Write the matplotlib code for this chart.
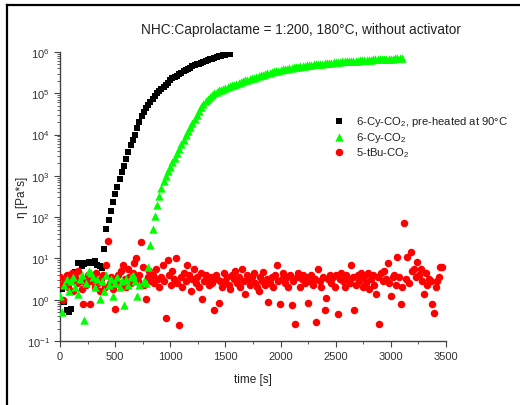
import numpy as np
import matplotlib
matplotlib.use("Agg")
import matplotlib.pyplot as plt
from matplotlib.lines import Line2D
from matplotlib.ticker import LogLocator, MultipleLocator, NullFormatter

# ---------------- data (log10 of eta) ----------------
black_dt = 20  # s between samples
black_log = [
    0.0, 0.26, -0.05, -0.26, -0.3, -0.22, 0.6, 0.66, 0.88, 0.9,
    0.81, 0.86, 0.9, 0.92, 0.88, 0.9, 0.93, 0.85, 0.81, 0.78,
    1.23, 1.71, 1.92, 2.14, 2.36, 2.56, 2.74, 2.92, 3.09, 3.25,
    3.42, 3.58, 3.74, 3.88, 4.00, 4.15, 4.30, 4.45, 4.55, 4.64,
    4.72, 4.80, 4.87, 4.94, 5.00, 5.05, 5.10, 5.15, 5.20, 5.25,
    5.32, 5.36, 5.39, 5.43, 5.46, 5.49, 5.53, 5.56, 5.59, 5.62,
    5.66, 5.68, 5.70, 5.72, 5.74, 5.76, 5.78, 5.80, 5.82, 5.84,
    5.86, 5.88, 5.90, 5.91, 5.92, 5.93, 5.94, 5.95,
]

green_dt = 20
green_log = [
    0.1, -0.3, 0.35, 0.5, 0.2, 0.45, 0.55, 0.3, 0.15, 0.5,
    0.6, -0.5, 0.4, 0.7, 0.65, 0.55, 0.3, 0.5, 0.02, 0.45,
    0.2, 0.6, 0.35, 0.5, 0.1, 0.4, 0.55, 0.3, 0.45, -0.13,
    0.5, 0.35, 0.55, 0.6, 0.45, 0.1, 0.35, -1.09, 0.45, 0.4,
    0.80, 1.33, 1.71, 2.03, 2.30, 2.52, 2.70, 2.88, 3.00, 3.11,
    3.22, 3.33, 3.44, 3.55, 3.66, 3.77, 3.88, 3.98, 4.08, 4.18,
    4.28, 4.38, 4.48, 4.57, 4.66, 4.74, 4.81, 4.87, 4.92, 4.97,
    5.01, 5.04, 5.07, 5.09, 5.11, 5.13, 5.15, 5.17, 5.19, 5.21,
    5.23, 5.25, 5.27, 5.29, 5.31, 5.33, 5.35, 5.36, 5.38, 5.40,
    5.42, 5.44, 5.45, 5.47, 5.48, 5.50, 5.52, 5.53, 5.54, 5.55,
    5.57, 5.58, 5.59, 5.60, 5.61, 5.62, 5.63, 5.64, 5.64, 5.65,
    5.66, 5.67, 5.68, 5.68, 5.69, 5.70, 5.71, 5.71, 5.72, 5.72,
    5.73, 5.73, 5.74, 5.74, 5.75, 5.75, 5.76, 5.76, 5.77, 5.77,
    5.78, 5.78, 5.78, 5.79, 5.79, 5.79, 5.80, 5.80, 5.80, 5.81,
    5.81, 5.81, 5.82, 5.82, 5.82, 5.83, 5.83, 5.83, 5.84, 5.84,
    5.84, 5.84, 5.85, 5.85, 5.85, 5.85,
]

red_dt = 15
red_log = [
    0.55, 0.35, 0.0, 0.45, 0.6, 0.3, 0.5, 0.65, 0.2, 0.55,
    0.4, 0.7, 0.45, 0.25, -0.1, 0.5, 0.35, 0.6, -0.1, 0.45,
    0.55, 0.3, 0.65, 0.4, 0.2, 0.5, 0.6, 0.3, 0.85, 1.43,
    0.4, 0.55, 0.25, -0.22, 0.45, 0.6, 0.35, 0.7, 0.85, 0.5,
    0.3, 0.75, 0.55, 0.4, 0.65, 0.9, 1.0, 0.45, 0.6, 1.41,
    0.8, 0.35, 0.02, 0.55, 0.7, 0.45, 0.6, 0.4, 0.75, 0.5,
    0.3, 0.55, 0.85, 0.45, -0.45, 0.95, 0.6, 0.35, 0.7, 0.5,
    1.0, 0.4, -0.61, 0.55, 0.3, 0.65, 0.45, 0.85, 0.6, 0.2,
    0.5, 0.75, 0.4, 0.55, 0.3, 0.65, 0.02, 0.45, 0.6, 0.5,
    0.35, 0.55, 0.4, -0.25, 0.6, 0.5, -0.08, 0.45, 0.3, 0.65,
    0.45, 0.55, 0.35, 0.25, 0.6, 0.5, 0.7, 0.4, 0.55, 0.3,
    0.75, 0.45, 0.15, 0.6, 0.5, 0.35, 0.55, 0.65, 0.4, 0.3,
    0.2, 0.55, 0.45, 0.67, 0.35, 0.5, -0.06, 0.4, 0.55, 0.3,
    0.6, 0.83, 0.45, -0.1, 0.5, 0.65, 0.4, 0.55, 0.3, 0.6,
    -0.14, 0.45, -0.59, 0.55, 0.65, 0.3, 0.5, 0.6, 0.4, 0.55,
    -0.08, 0.45, 0.6, 0.35, 0.5, -0.55, 0.75, 0.45, 0.3, 0.55,
    -0.26, 0.05, 0.5, 0.6, 0.4, 0.55, 0.3, 0.6, -0.34, 0.5,
    0.65, 0.45, 0.3, 0.6, 0.5, 0.4, 0.83, 0.55, -0.25, 0.35,
    0.6, 0.45, 0.65, 0.3, 0.55, 0.4, 0.65, 0.25, 0.5, 0.6,
    0.35, 0.15, 0.55, -0.59, 0.65, 0.45, 0.7, 0.5, 0.89, 0.4,
    0.1, 0.55, 0.6, 0.35, 1.03, 0.55, -0.1, 0.3, 1.85, 0.5,
    1.03, 0.4, 1.15, 0.7, 0.75, 0.55, 0.91, 0.6, 0.75, 0.45,
    0.14, 0.65, 0.35, 0.5, 0.45, -0.1, -0.32, 0.3, 0.45, 0.55,
    0.79, 0.79,
]

labels = [r"6-Cy-CO$_2$, pre-heated at 90°C", r"6-Cy-CO$_2$", r"5-tBu-CO$_2$"]
title = "NHC:Caprolactame = 1:200, 180°C, without activator"
xlabel = "time [s]"
ylabel = "η [Pa*s]"

# ---------------- style ----------------
plt.rcParams["font.family"] = ["Liberation Sans", "DejaVu Sans"]
plt.rcParams["mathtext.fontset"] = "custom"
plt.rcParams["mathtext.rm"] = "Liberation Sans"
plt.rcParams["mathtext.it"] = "Liberation Sans:italic"
plt.rcParams["mathtext.bf"] = "Liberation Sans:bold"

W, H = 520, 406
fig = plt.figure(figsize=(W / 100, H / 100), dpi=100)
ax = fig.add_axes([60 / W, 1 - 342 / H, 386 / W, 289 / H])

t_black = np.arange(len(black_log)) * black_dt
t_green = np.arange(len(green_log)) * green_dt
t_red = np.arange(len(red_log)) * red_dt

hb = ax.scatter(t_black, 10 ** np.array(black_log), marker="s", s=4.3 ** 2,
                color="black", linewidths=0, label=labels[0], zorder=3)
hr = ax.scatter(t_red, 10 ** np.array(red_log), marker="o", s=5.4 ** 2,
                color="#ff0000", linewidths=0, label=labels[2], zorder=4)
hg = ax.scatter(t_green, 10 ** np.array(green_log), marker="^", s=6.0 ** 2,
                color="#00ff00", linewidths=0, label=labels[1], zorder=5)

ax.set_yscale("log")
ax.set_xlim(0, 3500)
ax.set_ylim(0.1, 1e6)
ax.xaxis.set_major_locator(MultipleLocator(500))
ax.xaxis.set_minor_locator(MultipleLocator(250))
ax.yaxis.set_major_locator(LogLocator(base=10, numticks=20))
ax.yaxis.set_minor_locator(LogLocator(base=10, subs=np.arange(2, 10), numticks=20))
ax.yaxis.set_minor_formatter(NullFormatter())

for s in ["top", "right"]:
    ax.spines[s].set_visible(False)
for s in ["left", "bottom"]:
    ax.spines[s].set_color("#444444")
    ax.spines[s].set_linewidth(1.0)

ax.tick_params(which="major", direction="out", length=4, width=0.8, colors="#444444",
               labelsize=8, labelcolor="#333333")
ax.tick_params(which="minor", direction="out", length=2, width=0.6, colors="#444444")

ax.set_xlabel(xlabel, fontsize=8.5, color="#222222", labelpad=8)
ax.set_ylabel(ylabel, fontsize=8.5, color="#222222")
ax.yaxis.set_label_coords((28 - 60) / 386, 0.5)

fig.text(301 / W, 1 - 30 / H, title, ha="center", va="center", fontsize=9.8, color="#222222")

ax.legend(handles=[hb, hg, hr], loc="upper left", bbox_to_anchor=(333 / W, 1 - 115 / H),
          bbox_transform=fig.transFigure, frameon=False, fontsize=8.1, handlelength=1.0,
          handletextpad=1.0, labelspacing=0.15, borderpad=0, borderaxespad=0,
          labelcolor="#222222", scatterpoints=1)

# image frame (top and left edges)
fig.add_artist(Line2D([7 / W, 1], [1 - 6 / H, 1 - 6 / H], transform=fig.transFigure,
                      color="black", lw=1.6))
fig.add_artist(Line2D([7 / W, 7 / W], [0, 1 - 6 / H], transform=fig.transFigure,
                      color="black", lw=1.6))

fig.savefig("out.png", dpi=100)
